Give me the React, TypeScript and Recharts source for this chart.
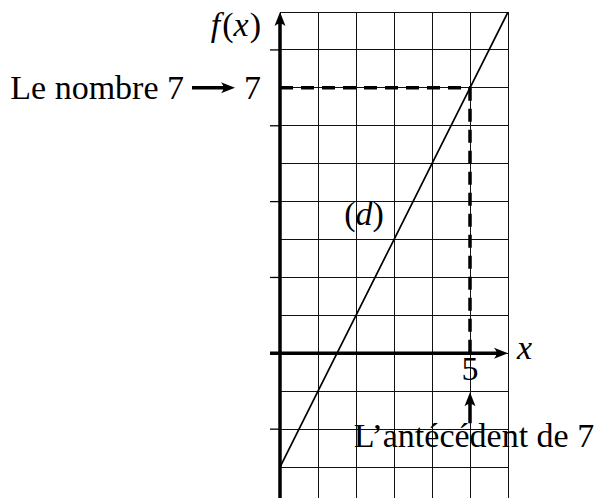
import React from 'react';
import {
  LineChart,
  Line,
  XAxis,
  YAxis,
  CartesianGrid,
  ReferenceLine,
  ReferenceDot,
} from 'recharts';

const xValues = [0, 1, 2, 3, 4, 5, 6];
const fValues = [-3, -1, 1, 3, 5, 7, 9];

const xTicks = [0, 1, 2, 3, 4, 5, 6];
const yTicks = [-4, -3, -2, -1, 0, 1, 2, 3, 4, 5, 6, 7, 8, 9];
const markedYTicks = [-2, 0, 2, 4, 6, 8];

const image = 7;
const antecedent = 5;

const data = xValues.map((x, i) => ({ x, f: fValues[i] }));

const FONT = '"Liberation Serif", "DejaVu Serif", serif';
const FS = 34;

function arrowUp(x: number, y: number) {
  return `M${x},${y} L${x - 5.5},${y + 14} Q${x},${y + 9} ${x + 5.5},${y + 14} Z`;
}

function arrowRight(x: number, y: number) {
  return `M${x},${y} L${x - 14},${y - 5.5} Q${x - 9},${y} ${x - 14},${y + 5.5} Z`;
}

const YAxisShape = (p: any) => {
  const x = p.x1;
  const top = Math.min(p.y1, p.y2);
  const bottom = Math.max(p.y1, p.y2);
  return (
    <g>
      <line x1={x} x2={x} y1={bottom} y2={top + 6} stroke="#000" strokeWidth={3.5} />
      <path d={arrowUp(x, top)} fill="#000" />
    </g>
  );
};

const XAxisShape = (p: any) => {
  const y = p.y1;
  const left = Math.min(p.x1, p.x2);
  const right = Math.max(p.x1, p.x2);
  return (
    <g>
      <line x1={left - 10} x2={right - 6} y1={y} y2={y} stroke="#000" strokeWidth={3.5} />
      <path d={arrowRight(right, y)} fill="#000" />
    </g>
  );
};

const YTick = ({ x, y, payload }: any) =>
  markedYTicks.includes(payload.value) ? (
    <line x1={x - 10} x2={x} y1={y} y2={y} stroke="#000" strokeWidth={1.3} />
  ) : (
    <g />
  );

const txt = { fontFamily: FONT, fontSize: FS, fill: '#000' } as const;

export default function App() {
  return (
    <div
      style={{
        position: 'absolute',
        left: 0,
        top: 0,
        width: 602,
        height: 498,
        overflow: 'hidden',
        background: '#fff',
      }}
    >
      <LineChart
        width={602}
        height={505}
        data={data}
        margin={{ top: 12, right: 94, bottom: 0, left: 270 }}
      >
        <CartesianGrid stroke="#111" strokeWidth={1} shapeRendering="crispEdges" />
        <XAxis
          dataKey="x"
          type="number"
          domain={[0, 6]}
          ticks={xTicks}
          allowDataOverflow
          hide
        />
        <YAxis
          type="number"
          domain={[-4, 9]}
          ticks={yTicks}
          allowDataOverflow
          width={10}
          axisLine={false}
          tickLine={false}
          tickSize={0}
          tickMargin={0}
          tick={YTick}
          interval={0}
        />
        <Line
          dataKey="f"
          type="linear"
          stroke="#000"
          strokeWidth={1.7}
          dot={false}
          isAnimationActive={false}
        />
        <ReferenceLine
          segment={[{ x: 0, y: image }, { x: antecedent, y: image }]}
          stroke="#000"
          strokeWidth={3.5}
          strokeDasharray="13 8"
          ifOverflow="visible"
        />
        <ReferenceLine
          segment={[{ x: antecedent, y: image }, { x: antecedent, y: 0 }]}
          stroke="#000"
          strokeWidth={3.5}
          strokeDasharray="13 8"
          ifOverflow="visible"
        />
        <ReferenceLine x={0} shape={YAxisShape} ifOverflow="visible" />
        <ReferenceLine y={0} shape={XAxisShape} ifOverflow="visible" />

        <ReferenceDot
          x={0}
          y={9}
          r={0}
          ifOverflow="visible"
          shape={(p: any) => (
            <text x={p.cx - 19} y={p.cy + 24} textAnchor="end" style={txt}>
              <tspan fontStyle="italic">f</tspan>
              <tspan dx={2}>(</tspan>
              <tspan fontStyle="italic">x</tspan>
              <tspan dx={1}>)</tspan>
            </text>
          )}
        />
        <ReferenceDot
          x={0}
          y={image}
          r={0}
          ifOverflow="visible"
          shape={(p: any) => (
            <g>
              <text x={p.cx - 96} y={p.cy + 11} textAnchor="end" style={txt}>
                Le nombre 7
              </text>
              <line
                x1={p.cx - 88}
                x2={p.cx - 52}
                y1={p.cy}
                y2={p.cy}
                stroke="#000"
                strokeWidth={3.5}
              />
              <path d={arrowRight(p.cx - 45, p.cy)} fill="#000" />
              <text x={p.cx - 19} y={p.cy + 11} textAnchor="end" style={txt}>
                7
              </text>
            </g>
          )}
        />
        <ReferenceDot
          x={2}
          y={4}
          r={0}
          ifOverflow="visible"
          shape={(p: any) => (
            <text x={p.cx + 8} y={p.cy + 23} textAnchor="middle" style={txt}>
              <tspan>(</tspan>
              <tspan fontStyle="italic">d</tspan>
              <tspan>)</tspan>
            </text>
          )}
        />
        <ReferenceDot
          x={6}
          y={0}
          r={0}
          ifOverflow="visible"
          shape={(p: any) => (
            <text x={p.cx + 9} y={p.cy + 6} style={{ ...txt, fontStyle: 'italic' }}>
              x
            </text>
          )}
        />
        <ReferenceDot
          x={antecedent}
          y={0}
          r={0}
          ifOverflow="visible"
          shape={(p: any) => (
            <text x={p.cx} y={p.cy + 27} textAnchor="middle" style={txt}>
              5
            </text>
          )}
        />
        <ReferenceDot
          x={antecedent}
          y={-1}
          r={0}
          ifOverflow="visible"
          shape={(p: any) => (
            <g>
              <line
                x1={p.cx}
                x2={p.cx}
                y1={p.cy + 32}
                y2={p.cy + 8}
                stroke="#000"
                strokeWidth={3.5}
              />
              <path d={arrowUp(p.cx, p.cy + 1)} fill="#000" />
              <text x={p.cx + 4} y={p.cy + 56} textAnchor="middle" style={txt}>
                L’antécédent de 7
              </text>
            </g>
          )}
        />
      </LineChart>
    </div>
  );
}
